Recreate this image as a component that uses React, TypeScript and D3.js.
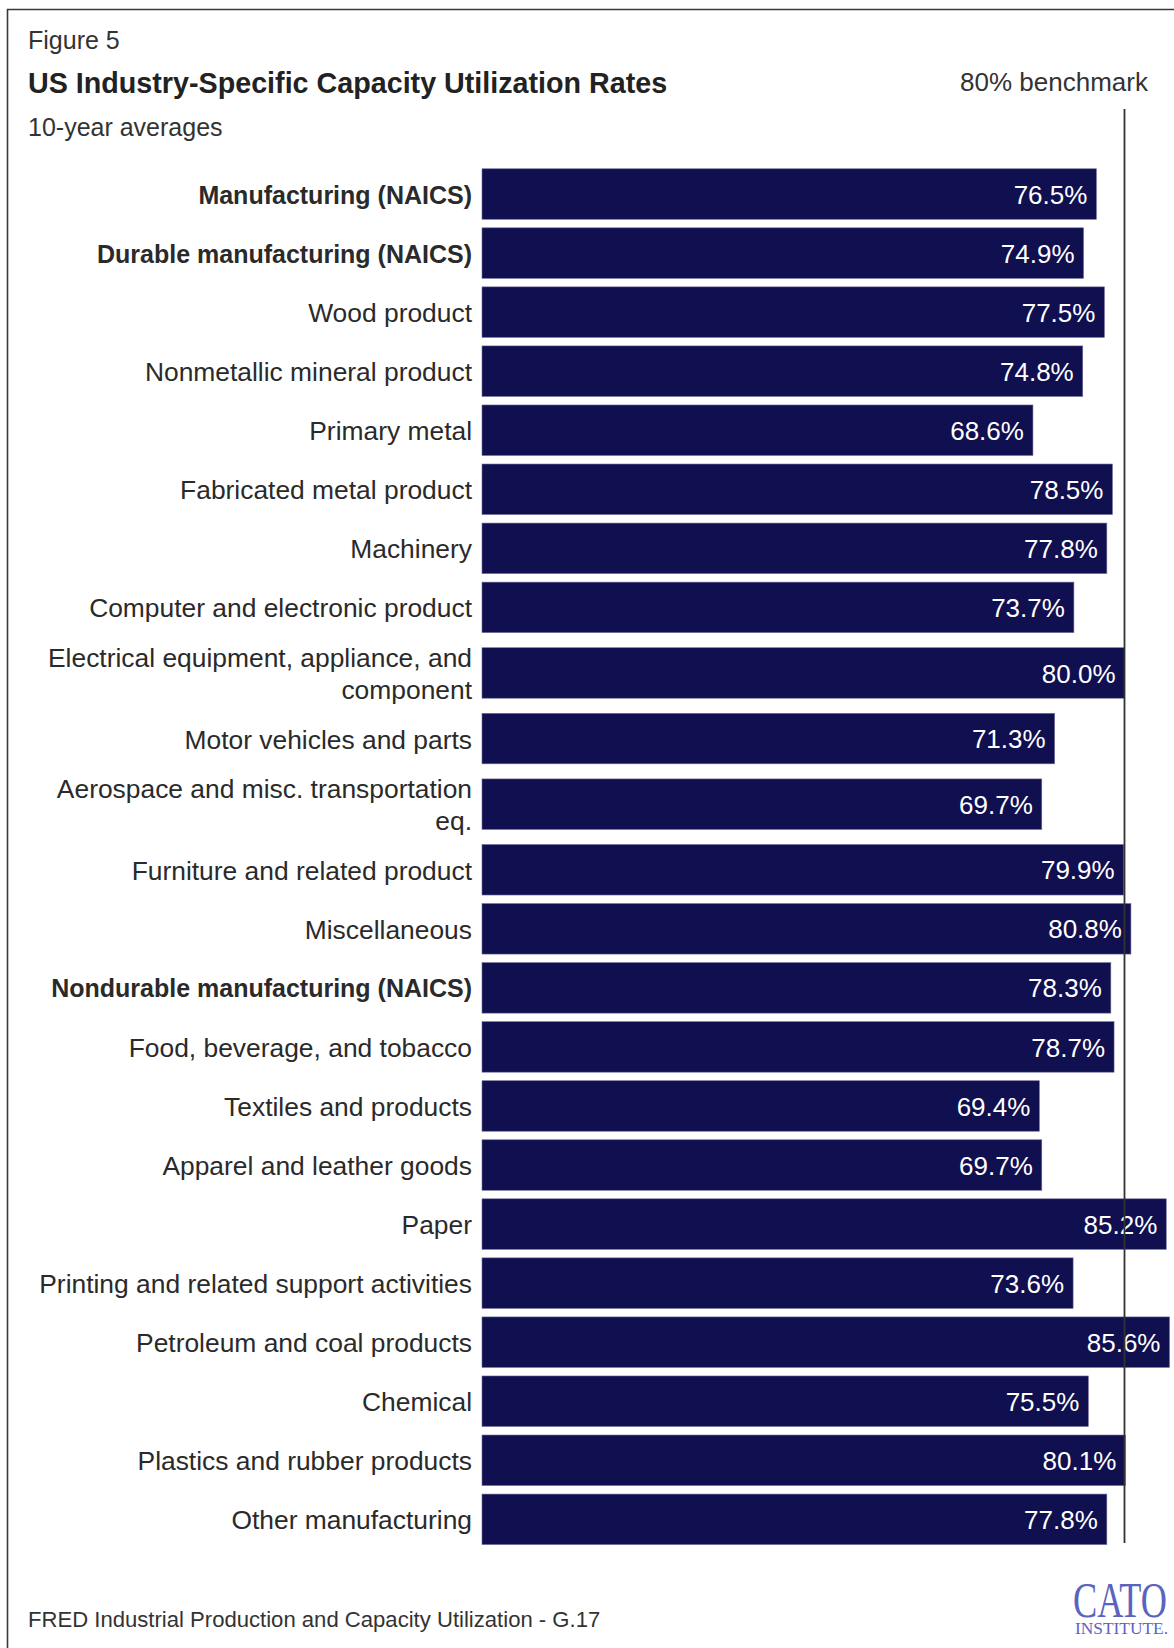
import React from "react";
import * as d3 from "d3";

const categories: string[][] = [
  ["Manufacturing (NAICS)"],
  ["Durable manufacturing (NAICS)"],
  ["Wood product"],
  ["Nonmetallic mineral product"],
  ["Primary metal"],
  ["Fabricated metal product"],
  ["Machinery"],
  ["Computer and electronic product"],
  ["Electrical equipment, appliance, and", "component"],
  ["Motor vehicles and parts"],
  ["Aerospace and misc. transportation", "eq."],
  ["Furniture and related product"],
  ["Miscellaneous"],
  ["Nondurable manufacturing (NAICS)"],
  ["Food, beverage, and tobacco"],
  ["Textiles and products"],
  ["Apparel and leather goods"],
  ["Paper"],
  ["Printing and related support activities"],
  ["Petroleum and coal products"],
  ["Chemical"],
  ["Plastics and rubber products"],
  ["Other manufacturing"],
];
const values: number[] = [
  76.5, 74.9, 77.5, 74.8, 68.6, 78.5, 77.8, 73.7, 80.0, 71.3, 69.7, 79.9, 80.8,
  78.3, 78.7, 69.4, 69.7, 85.2, 73.6, 85.6, 75.5, 80.1, 77.8,
];
const boldRows: boolean[] = [
  true, true, false, false, false, false, false, false, false, false, false, false, false,
  true, false, false, false, false, false, false, false, false, false,
];
const benchmark = 80;

const FONT = "'Liberation Sans', Arial, sans-serif";
const W = 1174;
const H = 1648;

export default function App() {
  const x = d3.scaleLinear().domain([0, benchmark]).range([482, 1124.5]);
  const rowH = 59.05;
  const extra = 13.1;
  const barH = 50.5;
  const top = 164.5;
  const heights = categories.map((c) => rowH + (c.length - 1) * extra);
  const starts: number[] = [];
  heights.reduce((acc, h) => {
    starts.push(acc);
    return acc + h;
  }, top);
  const centers = starts.map((s, i) => s + heights[i] / 2);
  const yEnd = 1543;

  return (
    <svg
      width={W}
      height={H}
      style={{ position: "absolute", left: 0, top: 0, background: "#fff" }}
      fontFamily={FONT}
    >
      <rect x={0} y={0} width={W} height={H} fill="#fff" />
      <path d={`M7.5,${H} V9.5 H${W}`} fill="none" stroke="#3a3a3a" strokeWidth={1.6} />
      <text x={28} y={49} fontSize={25} fill="#333">Figure 5</text>
      <text x={28} y={93} fontSize={28.7} fontWeight="bold" fill="#222">
        US Industry-Specific Capacity Utilization Rates
      </text>
      <text x={28} y={136} fontSize={25} fill="#333">10-year averages</text>
      <text x={1148} y={91} fontSize={26} fill="#333" textAnchor="end">80% benchmark</text>

      {values.map((v, i) => (
        <g key={i}>
          <rect
            x={x(0)}
            y={centers[i] - barH / 2}
            width={x(v) - x(0)}
            height={barH}
            fill="#100f50"
            stroke="#6e6d9a"
            strokeWidth={0.6}
          />
          <text
            x={x(v) - 9}
            y={centers[i]}
            dy="0.37em"
            fontSize={26}
            fill="#fff"
            textAnchor="end"
          >
            {v.toFixed(1)}%
          </text>
          {categories[i].map((line, j) => (
            <text
              key={j}
              x={472}
              y={centers[i] + (j - (categories[i].length - 1) / 2) * 31.5}
              dy="0.38em"
              fontSize={boldRows[i] ? 25 : 26.4}
              fontWeight={boldRows[i] ? "bold" : "normal"}
              fill="#2a2a2a"
              textAnchor="end"
            >
              {line}
            </text>
          ))}
        </g>
      ))}

      <line
        x1={x(benchmark)}
        x2={x(benchmark)}
        y1={109}
        y2={yEnd}
        stroke="#333"
        strokeWidth={1.8}
      />

      <text x={28} y={1627} fontSize={22.1} fill="#333">
        FRED Industrial Production and Capacity Utilization - G.17
      </text>
      <g fill="#5a64c0" fontFamily="'Liberation Serif', 'DejaVu Serif', serif">
        <text x={1073} y={1617} fontSize={51} textLength={94} lengthAdjust="spacingAndGlyphs">
          CATO
        </text>
        <text x={1075} y={1634} fontSize={16.5} textLength={93} lengthAdjust="spacingAndGlyphs">
          INSTITUTE.
        </text>
      </g>
    </svg>
  );
}
